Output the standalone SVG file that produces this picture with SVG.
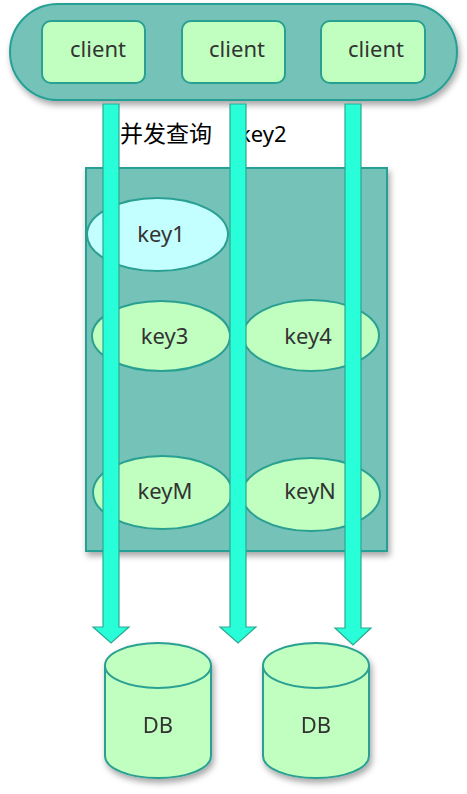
<svg xmlns="http://www.w3.org/2000/svg" width="467" height="794" viewBox="0 0 467 794">
<style>
.lbl{font-family:"Noto Sans","Liberation Sans",sans-serif;font-size:22px;fill:#333;text-anchor:middle}
.cn{font-family:"Noto Sans CJK SC","Noto Sans",sans-serif;font-size:23px;fill:#000}
.en{font-family:"Noto Sans","Liberation Sans",sans-serif;font-size:22px;fill:#000}
.client{fill:#c0ffc0;stroke:#2aa092;stroke-width:2}
.key{fill:#c0ffc0;stroke:#2aa092;stroke-width:2}
.arrow{fill:#28ffd9;stroke:#2aa891;stroke-width:1.2}
.db{fill:#c0ffc0;stroke:#2aa092;stroke-width:2}
</style>
<defs>
<filter id="sh" x="-20%" y="-20%" width="140%" height="140%">
<feDropShadow dx="2" dy="4" stdDeviation="3" flood-color="#000" flood-opacity="0.35"/>
</filter>
</defs>
<g id="clients-group">
<rect x="10" y="4" width="447" height="96" rx="48" ry="48" fill="#74c2b9" stroke="#26a095" stroke-width="2" filter="url(#sh)"/>
</g>
<g id="client1"><rect class="client" x="42" y="21" width="103" height="62" rx="9"/><text class="lbl" x="98" y="57">client</text></g>
<g id="client2"><rect class="client" x="182" y="21" width="103" height="62" rx="9"/><text class="lbl" x="237" y="57">client</text></g>
<g id="client3"><rect class="client" x="321" y="21" width="104" height="62" rx="9"/><text class="lbl" x="376" y="57">client</text></g>
<g id="labels">
<text class="cn" x="120" y="142">并发查询</text>
<text class="en" x="239" y="142">key2</text>
</g>
<g id="cache">
<rect x="86" y="168" width="301" height="383" fill="#74c2b9" stroke="#26a095" stroke-width="2" filter="url(#sh)"/>
</g>
<g id="key1"><ellipse cx="157.5" cy="234.5" rx="70.5" ry="36.5" fill="#c4ffff" stroke="#2aa092" stroke-width="2"/><text class="lbl" x="161" y="242">key1</text></g>
<g id="key3"><ellipse class="key" cx="161" cy="336" rx="69" ry="35"/><text class="lbl" x="164.5" y="344">key3</text></g>
<g id="key4"><ellipse class="key" cx="311" cy="335.5" rx="68" ry="35.5"/><text class="lbl" x="308" y="344">key4</text></g>
<g id="keyM"><ellipse class="key" cx="162.5" cy="492.5" rx="69.5" ry="36.5"/><text class="lbl" x="165" y="499">keyM</text></g>
<g id="keyN"><ellipse class="key" cx="311" cy="494.5" rx="69" ry="36.5"/><text class="lbl" x="310" y="499">keyN</text></g>
<g id="connectors">
<path class="arrow" d="M103,104 H119 V627 H129 L111,643 L93,627 H103 Z"/>
<path class="arrow" d="M230,104 H246 V627 H256 L238,643 L220,627 H230 Z"/>
<path class="arrow" d="M345,104 H361 V628 H371 L353,645 L335,628 H345 Z"/>
</g>
<g id="db1" filter="url(#sh)">
<path class="db" d="M105,665.5 V756 A53,22 0 0 0 211,756 V665.5"/>
<ellipse class="db" cx="158" cy="665.5" rx="53" ry="22.5"/>
<text class="lbl" x="158" y="733">DB</text>
</g>
<g id="db2" filter="url(#sh)">
<path class="db" d="M263,665.5 V756 A53,22 0 0 0 369,756 V665.5"/>
<ellipse class="db" cx="316" cy="665.5" rx="53" ry="22.5"/>
<text class="lbl" x="316" y="733">DB</text>
</g>
</svg>
